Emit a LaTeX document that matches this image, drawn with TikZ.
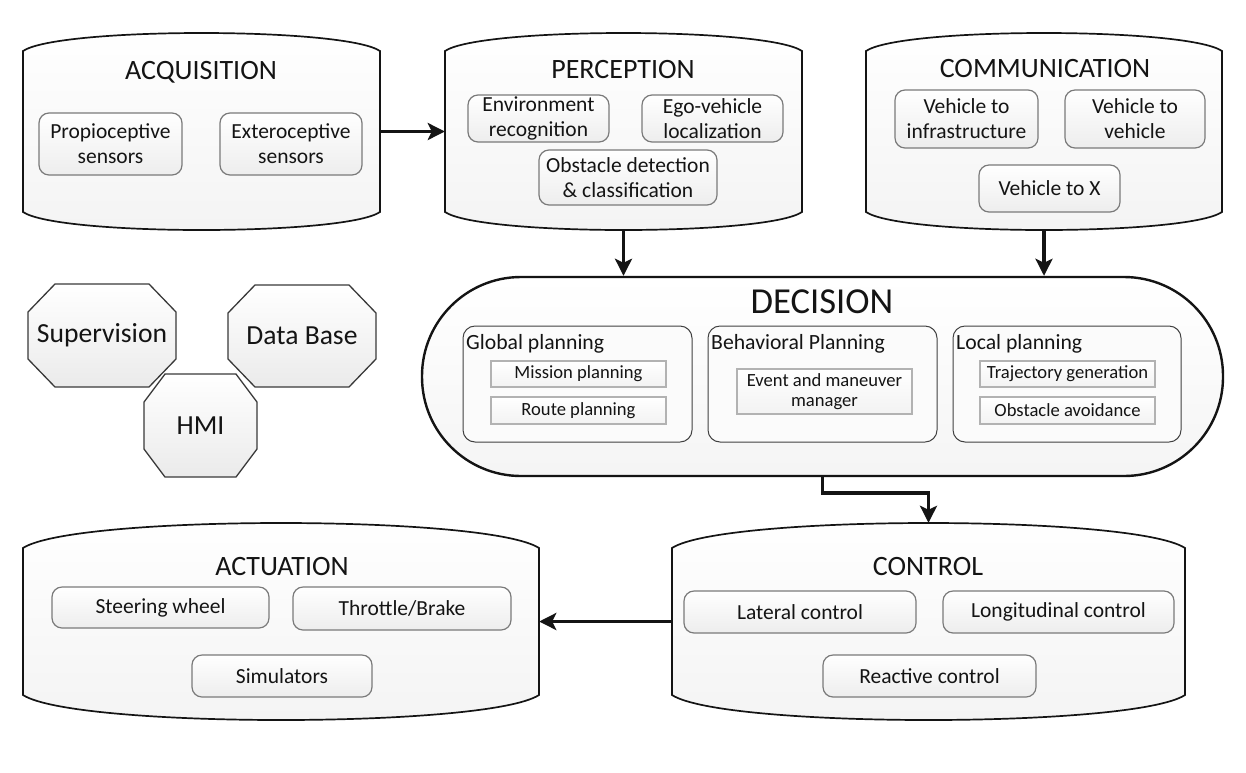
\documentclass[tikz,border=0pt]{standalone}
\usepackage{fontspec}
\setmainfont{Carlito}
\usetikzlibrary{arrows.meta,calc}
\definecolor{ink}{HTML}{141414}
\definecolor{subline}{HTML}{7A7A7A}
\tikzset{
  bigbox/.style={draw=ink, line width=1.7pt, top color=white, bottom color=gray!9},
  subbox/.style={draw=subline, line width=1.2pt, rounded corners=10pt, top color=white, bottom color=gray!14, inner sep=0pt, align=center, font=\fontsize{21.5}{25}\selectfont, text=ink},
  panel/.style={draw=gray!50!black, line width=1pt, rounded corners=12pt, fill=gray!3},
  task/.style={draw=gray!60, line width=1.8pt, top color=white, bottom color=gray!10, inner sep=0pt, align=center, font=\fontsize{18.6}{20}\selectfont, text=ink},
  paneltitle/.style={anchor=base west, inner sep=0pt, font=\fontsize{21.7}{24}\selectfont, text=ink},
  titletext/.style={font=\fontsize{28}{30}\selectfont, text=ink, anchor=base, inner sep=0pt},
  flow/.style={draw=ink, line width=3.8pt, line join=miter, -{Stealth[length=17pt,width=17pt,inset=4pt]}},
  octa/.style={draw=gray!45!black, line width=1.3pt, top color=white, bottom color=gray!16},
  octatext/.style={font=\fontsize{27.6}{30}\selectfont, text=ink, inner sep=0pt},
}
% name, x1, x2, ytop, ybottom, bulge
\newcommand\barrel[6]{%
  \draw[bigbox] (#2,#4) .. controls ({#2+0.1*(#3-#2)},{#4-#6/0.75}) and ({#3-0.1*(#3-#2)},{#4-#6/0.75}) .. (#3,#4)
     -- (#3,#5) .. controls ({#3-0.1*(#3-#2)},{#5+#6/0.75}) and ({#2+0.1*(#3-#2)},{#5+#6/0.75}) .. (#2,#5) -- cycle;
  \node[inner sep=0pt, minimum width={#3-#2}, minimum height={#5-#4+2*#6}] (#1) at ({(#2+#3)/2},{(#4+#5)/2}) {};
}
% style, name, x1, y1, x2, y2, text
\newcommand\cbox[7]{%
  \node[#1, minimum width={#5-#3}, minimum height={#6-#4}] (#2) at ({(#3+#5)/2},{(#4+#6)/2}) {#7};
}
% name, x1, y1, x2, y2, cx, cy, text
\newcommand\octagon[8]{%
  \draw[octa] ({#2+#6},#3) -- ({#4-#6},#3) -- (#4,{#3+#7}) -- (#4,{#5-#7}) -- ({#4-#6},#5)
     -- ({#2+#6},#5) -- (#2,{#5-#7}) -- (#2,{#3+#7}) -- cycle;
  \node[octatext] (#1) at ({(#2+#4)/2},{(#3+#5)/2}) {#8};
}
\begin{document}
\begin{tikzpicture}[x=1pt,y=-1pt]
\useasboundingbox (0,0) rectangle (1246,772);

% ---------- ACQUISITION ----------
\barrel{acq}{23}{380}{51}{212}{18}
\node[titletext] (acqt) at (201,79) {ACQUISITION};
\cbox{subbox}{prop}{39}{113}{182}{175}{Propioceptive\\sensors}
\cbox{subbox}{exte}{220}{113}{362}{175}{Exteroceptive\\sensors}

% ---------- PERCEPTION ----------
\barrel{perc}{445}{802}{51}{212}{18}
\node[titletext] (perct) at (623,78) {PERCEPTION};
\cbox{subbox}{env}{468}{95}{609}{142}{Environment\\recognition}
\cbox{subbox}{ego}{642}{95}{783}{142}{Ego-vehicle\\localization}
\cbox{subbox}{obs}{539}{150}{717}{205}{Obstacle detection\\\& classification}

% ---------- COMMUNICATION ----------
\barrel{comm}{866}{1222}{51}{212}{18}
\node[titletext] (commt) at (1045,77.5) {COMMUNICATION};
\cbox{subbox}{vti}{895}{90}{1038}{148}{Vehicle to\\infrastructure}
\cbox{subbox}{vtv}{1065}{90}{1205}{148}{Vehicle to\\vehicle}
\cbox{subbox}{vtx}{979}{165}{1120}{212}{Vehicle to X}

% ---------- octagons ----------
\octagon{sup}{28}{284}{176}{387}{27}{28}{Supervision}
\octagon{db}{228}{285}{376}{387}{27}{28}{Data Base}
\octagon{hmi}{144}{374}{257}{477}{21}{28}{HMI}

% ---------- DECISION ----------
\node[draw=ink, line width=2.4pt, rounded corners=99pt, top color=white, bottom color=gray!8,
      minimum width=801, minimum height=199, inner sep=0pt] (dec) at (822.5,376.5) {};
\node[font=\fontsize{36.6}{40}\selectfont, text=ink, anchor=base, inner sep=0pt] (dect) at (822,313) {DECISION};

\cbox{panel}{glob}{463}{326}{692}{442}{}
\node[paneltitle] (globt) at (466,349) {Global planning};
\cbox{task}{miss}{491}{361}{666}{387}{Mission planning}
\cbox{task}{rout}{491}{397}{666}{424}{Route planning}

\cbox{panel}{beh}{708}{326}{937}{442}{}
\node[paneltitle] (beht) at (711,349) {Behavioral Planning};
\cbox{task}{evt}{737}{369}{912}{414}{Event and maneuver\\manager}

\cbox{panel}{loc}{953}{326}{1181}{442}{}
\node[paneltitle] (loct) at (956,349) {Local planning};
\cbox{task}{traj}{980}{361}{1155}{387}{Trajectory generation}
\cbox{task}{oav}{980}{397}{1155}{424}{Obstacle avoidance}

% ---------- CONTROL ----------
\barrel{ctrl}{672}{1185}{548}{695}{25}
\node[titletext] (ctrlt) at (928,575) {CONTROL};
\cbox{subbox}{lat}{684}{591}{916}{633}{Lateral control}
\cbox{subbox}{lon}{943}{591}{1174}{633}{Longitudinal control}
\cbox{subbox}{rea}{823}{655}{1036}{697}{Reactive control}

% ---------- ACTUATION ----------
\barrel{act}{23}{539}{548}{695}{25}
\node[titletext] (actt) at (282,575) {ACTUATION};
\cbox{subbox}{ste}{52}{587}{269}{628}{Steering wheel}
\cbox{subbox}{thr}{293}{587}{511}{630}{Throttle/Brake}
\cbox{subbox}{sim}{192}{655}{372}{697}{Simulators}

% ---------- connectors ----------
\draw[flow] (acq.east) -- (perc.west);
\draw[flow] (perc.south) -- (perc.south |- dec.north);
\draw[flow] (comm.south) -- (comm.south |- dec.north);
\draw[flow] (dec.south) -- ++(0,16) -| (ctrl.north);
\draw[flow] (ctrl.west) -- (act.east);
\end{tikzpicture}
\end{document}
